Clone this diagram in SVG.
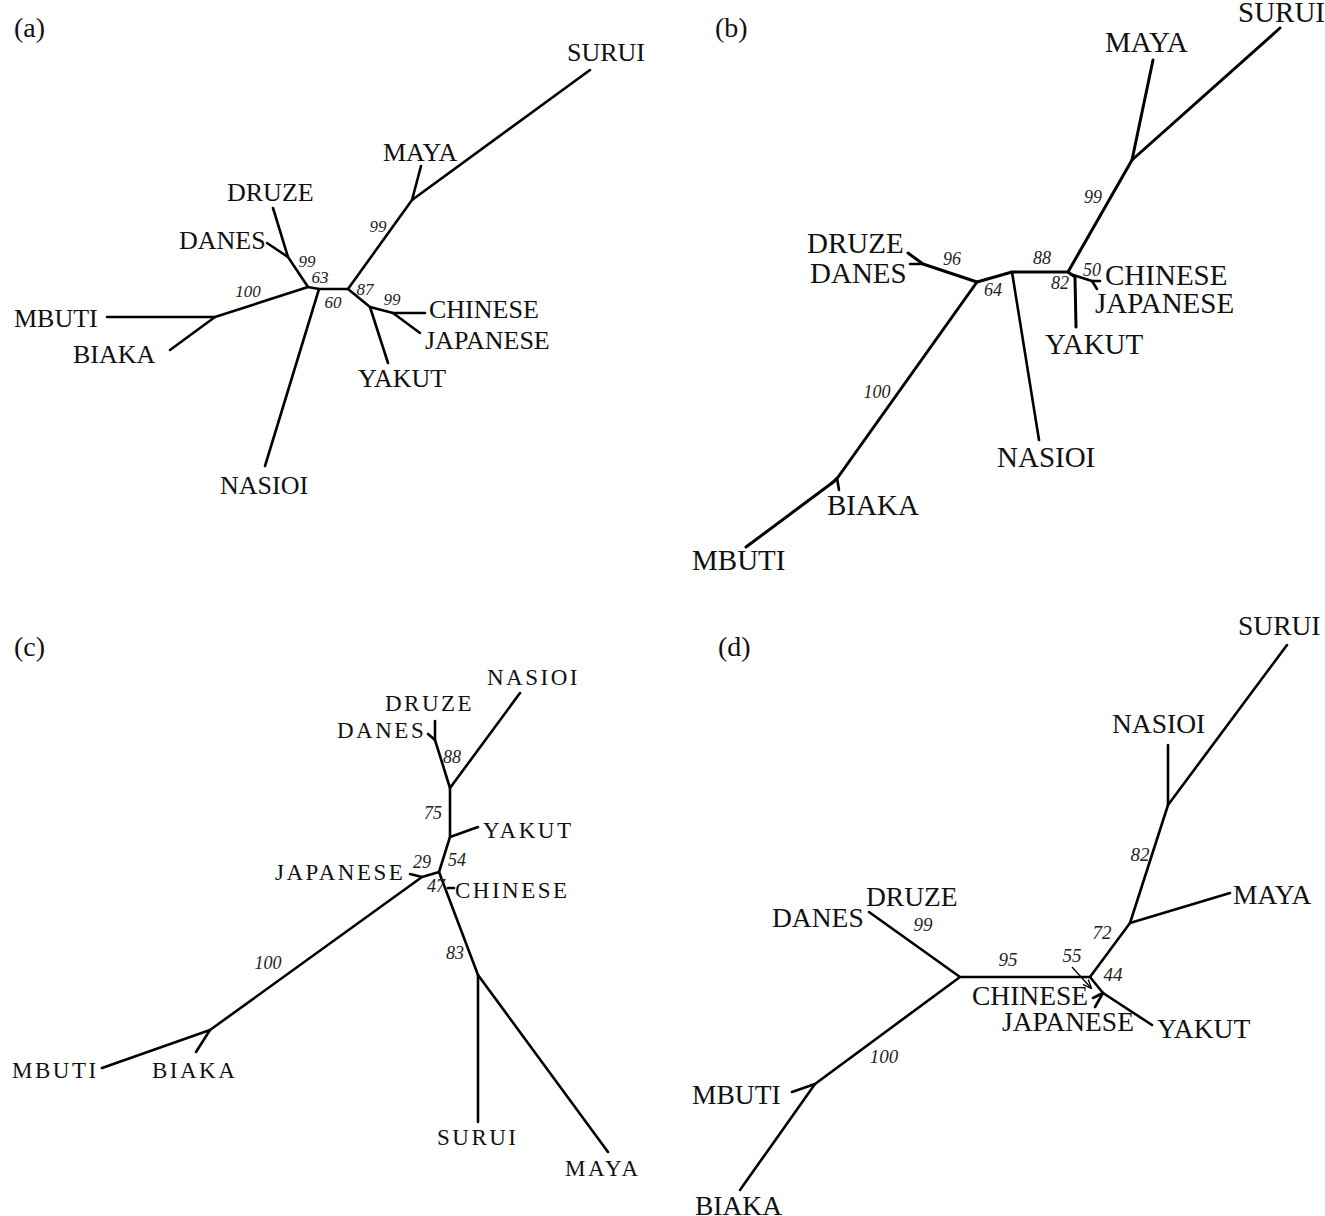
<svg xmlns="http://www.w3.org/2000/svg" width="1325" height="1216" viewBox="0 0 1325 1216">
<style>
.e{stroke:#000;stroke-width:2.6;fill:none;stroke-linecap:round;stroke-linejoin:round}
.t{font-family:"Liberation Serif","Times New Roman",serif;fill:#111}
.a{font-size:26px}.b{font-size:29px}.c{font-size:23px;letter-spacing:2.5px}.d{font-size:27.5px}
.p{font-family:"Liberation Serif",serif;font-size:28px;fill:#111}
.s{font-family:"Liberation Serif",serif;font-size:17px;font-style:italic;fill:#222;text-anchor:middle}
.sb{font-size:18px}.sc{font-size:18px}.sd{font-size:19px}
</style>
<defs>
<marker id="ah" viewBox="0 0 10 10" refX="9" refY="5" markerWidth="7" markerHeight="7" orient="auto"><path d="M0,1 L10,5 L0,9" fill="none" stroke="#000" stroke-width="1.5"/></marker>
</defs>
<rect width="1325" height="1216" fill="#fff"/>
<g id="panel-labels">
<text class="p" x="14" y="37">(a)</text>
<text class="p" x="715" y="37">(b)</text>
<text class="p" x="14" y="656">(c)</text>
<text class="p" x="718" y="656">(d)</text>
</g>
<g id="connectors">
<path class="e" d="M590,70 L412,200 L348,289 L319,289 L308,287 L288,257 L273,208"/>
<path class="e" d="M421,166 L412,200"/>
<path class="e" d="M319,289 L265,466"/>
<path class="e" d="M288,257 L267,243"/>
<path class="e" d="M308,287 L215,317 L107,317"/>
<path class="e" d="M215,317 L170,350"/>
<path class="e" d="M348,289 L370,307 L388,363"/>
<path class="e" d="M370,307 L393,313 L425,313"/>
<path class="e" d="M393,313 L420,333"/>
<path class="e" style="stroke-width:3" d="M1280,28 L1132,160 L1068,272 L1012,272 L977,282 L923,264 L908,253"/>
<path class="e" style="stroke-width:3" d="M1153,60 L1132,160"/>
<path class="e" d="M1012,272 L1039,440"/>
<path class="e" d="M923,264 L910,264"/>
<path class="e" style="stroke-width:3" d="M977,282 L836,480 L746,547"/>
<path class="e" d="M832,483 L837,478 L839,490"/>
<path class="e" style="stroke-width:3" d="M1068,272 L1075,277 L1076,327"/>
<path class="e" d="M1070,274 L1092,281 L1100,281"/>
<path class="e" d="M1092,281 L1097,289"/>
<path class="e" d="M520,693 L450,788 L435,740 L435,721"/>
<path class="e" d="M435,740 L428,734"/>
<path class="e" d="M450,788 L450,837 L478,827"/>
<path class="e" d="M450,837 L439,872 L422,877 L410,874"/>
<path class="e" d="M422,877 L210,1030 L102,1068"/>
<path class="e" d="M210,1030 L196,1052"/>
<path class="e" d="M439,872 L478,975 L478,1122"/>
<path class="e" d="M448,888 L454,888"/>
<path class="e" d="M478,975 L608,1152"/>
<path class="e" d="M869,912 L960,977 L1090,977 L1130,923 L1168,805 L1168,745"/>
<path class="e" d="M1168,805 L1287,645"/>
<path class="e" d="M1130,923 L1230,893"/>
<path class="e" d="M960,977 L815,1084 L792,1092"/>
<path class="e" d="M815,1084 L740,1190"/>
<path class="e" d="M1090,977 L1103,993 L1152,1025"/>
<path class="e" d="M1103,993 L1093,998"/>
<path class="e" d="M1103,993 L1095,1007"/>
<path d="M1072,967 L1091,988" stroke="#000" stroke-width="1.3" fill="none" marker-end="url(#ah)"/>
</g>
<g id="support-values">
<text class="s" x="307" y="267">99</text><text class="s" x="320" y="283">63</text><text class="s" x="248" y="297">100</text>
<text class="s" x="333" y="308">60</text><text class="s" x="365" y="295">87</text><text class="s" x="392" y="305">99</text><text class="s" x="378" y="232">99</text>
<text class="s sb" x="952" y="265">96</text><text class="s sb" x="993" y="296">64</text><text class="s sb" x="1042" y="264">88</text>
<text class="s sb" x="1092" y="276">50</text><text class="s sb" x="1060" y="289">82</text><text class="s sb" x="1093" y="203">99</text><text class="s sb" x="877" y="398">100</text>
<text class="s sc" x="452" y="763">88</text><text class="s sc" x="433" y="819">75</text><text class="s sc" x="457" y="866">54</text>
<text class="s sc" x="422" y="868">29</text><text class="s sc" x="436" y="892">47</text><text class="s sc" x="455" y="959">83</text><text class="s sc" x="268" y="969">100</text>
<text class="s sd" x="923" y="931">99</text><text class="s sd" x="1008" y="966">95</text><text class="s sd" x="1072" y="962">55</text>
<text class="s sd" x="1113" y="981">44</text><text class="s sd" x="1102" y="939">72</text><text class="s sd" x="1140" y="861">82</text><text class="s sd" x="884" y="1063">100</text>
</g>
<g id="a-surui"><text class="t a" x="567" y="61">SURUI</text></g>
<g id="a-maya"><text class="t a" x="383" y="161">MAYA</text></g>
<g id="a-druze"><text class="t a" x="227" y="201">DRUZE</text></g>
<g id="a-danes"><text class="t a" x="179" y="249">DANES</text></g>
<g id="a-mbuti"><text class="t a" x="14" y="327">MBUTI</text></g>
<g id="a-biaka"><text class="t a" x="73" y="363">BIAKA</text></g>
<g id="a-chinese"><text class="t a" x="429" y="318">CHINESE</text></g>
<g id="a-japanese"><text class="t a" x="425" y="349">JAPANESE</text></g>
<g id="a-yakut"><text class="t a" x="358" y="387">YAKUT</text></g>
<g id="a-nasioi"><text class="t a" x="220" y="494">NASIOI</text></g>
<g id="b-surui"><text class="t b" x="1238" y="22">SURUI</text></g>
<g id="b-maya"><text class="t b" x="1105" y="52">MAYA</text></g>
<g id="b-druze"><text class="t b" x="807" y="253">DRUZE</text></g>
<g id="b-danes"><text class="t b" x="810" y="283">DANES</text></g>
<g id="b-chinese"><text class="t b" x="1105" y="285">CHINESE</text></g>
<g id="b-japanese"><text class="t b" x="1095" y="313">JAPANESE</text></g>
<g id="b-yakut"><text class="t b" x="1045" y="354">YAKUT</text></g>
<g id="b-nasioi"><text class="t b" x="997" y="467">NASIOI</text></g>
<g id="b-biaka"><text class="t b" x="827" y="515">BIAKA</text></g>
<g id="b-mbuti"><text class="t b" x="692" y="570">MBUTI</text></g>
<g id="c-nasioi"><text class="t c" x="487" y="685">NASIOI</text></g>
<g id="c-druze"><text class="t c" x="385" y="711">DRUZE</text></g>
<g id="c-danes"><text class="t c" x="337" y="738">DANES</text></g>
<g id="c-yakut"><text class="t c" x="483" y="838">YAKUT</text></g>
<g id="c-japanese"><text class="t c" x="275" y="880">JAPANESE</text></g>
<g id="c-chinese"><text class="t c" x="455" y="898">CHINESE</text></g>
<g id="c-mbuti"><text class="t c" x="12" y="1078">MBUTI</text></g>
<g id="c-biaka"><text class="t c" x="152" y="1078">BIAKA</text></g>
<g id="c-surui"><text class="t c" x="437" y="1145">SURUI</text></g>
<g id="c-maya"><text class="t c" x="565" y="1176">MAYA</text></g>
<g id="d-surui"><text class="t d" x="1238" y="635">SURUI</text></g>
<g id="d-nasioi"><text class="t d" x="1112" y="733">NASIOI</text></g>
<g id="d-maya"><text class="t d" x="1233" y="904">MAYA</text></g>
<g id="d-druze"><text class="t d" x="866" y="906">DRUZE</text></g>
<g id="d-danes"><text class="t d" x="772" y="927">DANES</text></g>
<g id="d-chinese"><text class="t d" x="972" y="1005">CHINESE</text></g>
<g id="d-japanese"><text class="t d" x="1002" y="1031">JAPANESE</text></g>
<g id="d-yakut"><text class="t d" x="1157" y="1038">YAKUT</text></g>
<g id="d-mbuti"><text class="t d" x="692" y="1104">MBUTI</text></g>
<g id="d-biaka"><text class="t d" x="695" y="1215">BIAKA</text></g>
</svg>
